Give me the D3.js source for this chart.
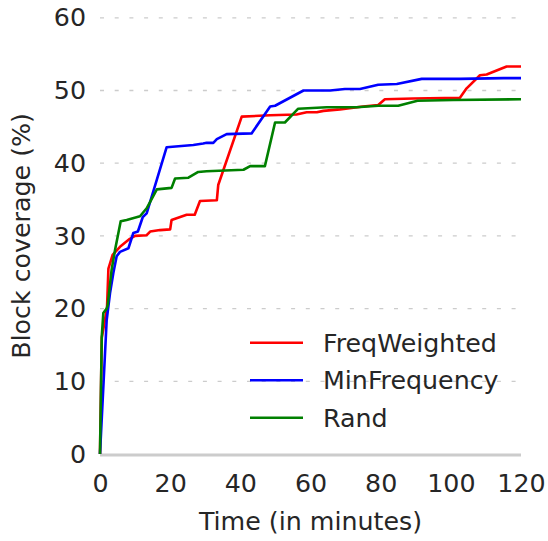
<!DOCTYPE html>
<html>
<head>
<meta charset="utf-8">
<script src="https://cdn.jsdelivr.net/npm/d3@7"></script>
<style>
  body { margin: 0; background: #fff; }
  text { font-family: "DejaVu Sans", sans-serif; fill: #262626; }
</style>
</head>
<body>
<div id="chart"></div>
<script>
// coverage over time
const seriesNames = ["FreqWeighted", "MinFrequency", "Rand"];
const seriesColors = ["#ff0000", "#0000ff", "#008000"];

const freqTime = [0, 0.5, 1.4, 2.0, 2.4, 2.6, 3.6, 5.7, 8.5, 10, 13.3, 14.3, 17.1, 20, 20.4, 24.7, 27, 28.5, 33.3, 33.7,
  40.4, 48.5, 56, 58.9, 61.8, 63.7, 68.4, 75, 79.3, 81.2, 89.3, 102.6, 104.5, 108.3, 110.2, 115.9, 120];
const freqCov = [0, 16.0, 18.4, 20.1, 25.5, 25.8, 27.4, 28.5, 29.6, 30, 30.1, 30.6, 30.8, 30.9, 32.2, 32.9, 32.9, 34.8, 34.9, 37,
  46.4, 46.6, 46.7, 47.0, 47.0, 47.2, 47.4, 47.8, 48.0, 48.8, 48.9, 49.0, 50.3, 52.1, 52.2, 53.3, 53.3];

const minTime = [0, 1.9, 2.85, 3.8, 4.75, 5.7, 8.1, 9.5, 10.8, 12.2, 13.3, 19, 26.6, 29.4, 30.4, 32.3, 33.3, 36.1,
  43.2, 48.5, 49.9, 58, 65.6, 69.8, 74.1, 79.3, 84.6, 91.7, 102.6, 115, 120];
const minCov = [0, 18.4, 22.1, 24.9, 27.2, 27.8, 28.3, 30.4, 30.6, 32.6, 33.1, 42.2, 42.5, 42.7, 42.8, 42.8, 43.3, 44.0,
  44.1, 47.8, 47.9, 50.0, 50.0, 50.2, 50.2, 50.8, 50.9, 51.6, 51.6, 51.7, 51.7];

const randTime = [0, 0.5, 0.95, 1.9, 2.2, 3.3, 4.3, 5.9, 7.6, 11.4, 13.3, 16.2, 20.4, 21.4, 25.2, 28, 30.4, 40.9, 42.8,
  47, 49.9, 52.7, 56.5, 64.6, 73.2, 79.3, 85, 90.5, 100.7, 120];
const randCov = [0, 16.1, 19.4, 20.0, 20.5, 25.3, 28.1, 32.0, 32.2, 32.7, 33.8, 36.4, 36.6, 37.9, 38.0, 38.8, 38.9, 39.1, 39.6,
  39.6, 45.6, 45.6, 47.5, 47.7, 47.7, 47.9, 47.9, 48.6, 48.7, 48.8];

const xTicks = [0, 20, 40, 60, 80, 100, 120];
const yTicks = [0, 10, 20, 30, 40, 50, 60];

const width = 548;
const height = 541;
const margin = { top: 17.8, right: 27, bottom: 87, left: 100 };
const fontSize = 25.3;

const svg = d3.select("#chart")
  .append("svg")
  .attr("width", width)
  .attr("height", height);

const xScale = d3.scaleLinear().domain([0, 120]).range([margin.left, width - margin.right]);
const yScale = d3.scaleLinear().domain([0, 60]).range([height - margin.bottom, margin.top]);

// dashed horizontal grid
svg.append("g")
  .selectAll("line")
  .data(yTicks.filter(d => d > 0))
  .join("line")
  .attr("x1", xScale(0))
  .attr("x2", xScale(120))
  .attr("y1", d => yScale(d))
  .attr("y2", d => yScale(d))
  .attr("stroke", "#cccccc")
  .attr("stroke-width", 1.3)
  .attr("stroke-dasharray", "4,10.7");

// bottom spine
svg.append("line")
  .attr("x1", xScale(0))
  .attr("x2", xScale(120))
  .attr("y1", yScale(0) + 1)
  .attr("y2", yScale(0) + 1)
  .attr("stroke", "#cccccc")
  .attr("stroke-width", 3);

const xAxis = svg.append("g")
  .attr("transform", `translate(0,${yScale(0)})`)
  .call(d3.axisBottom(xScale).tickValues(xTicks).tickSize(0).tickPadding(20));

const yAxis = svg.append("g")
  .attr("transform", `translate(${margin.left},0)`)
  .call(d3.axisLeft(yScale).tickValues(yTicks).tickSize(0).tickPadding(14));

[xAxis, yAxis].forEach(ax => {
  ax.select(".domain").remove();
  ax.selectAll("text")
    .attr("font-size", fontSize)
    .attr("font-family", "DejaVu Sans")
    .style("fill", "#262626");
});

const series = [
  { name: seriesNames[0], color: seriesColors[0], t: freqTime, v: freqCov },
  { name: seriesNames[1], color: seriesColors[1], t: minTime, v: minCov },
  { name: seriesNames[2], color: seriesColors[2], t: randTime, v: randCov }
];

const line = d3.line()
  .x(d => xScale(d[0]))
  .y(d => yScale(d[1]));

svg.append("g")
  .selectAll("path")
  .data(series)
  .join("path")
  .attr("d", s => line(s.t.map((t, i) => [t, s.v[i]])))
  .attr("fill", "none")
  .attr("stroke", s => s.color)
  .attr("stroke-width", 2.6)
  .attr("stroke-linejoin", "round");

// legend
const legend = svg.append("g")
  .selectAll("g")
  .data(series)
  .join("g")
  .attr("transform", (d, i) => `translate(250,${342.7 + i * 37.5})`);

legend.append("line")
  .attr("x1", 0)
  .attr("x2", 53)
  .attr("stroke", d => d.color)
  .attr("stroke-width", 2.6);

legend.append("text")
  .attr("x", 73)
  .attr("dy", "0.36em")
  .attr("font-size", fontSize)
  .text(d => d.name);

// axis titles
svg.append("text")
  .attr("x", (xScale(0) + xScale(120)) / 2)
  .attr("y", 530)
  .attr("text-anchor", "middle")
  .attr("font-size", fontSize)
  .text("Time (in minutes)");

svg.append("text")
  .attr("transform", `translate(30,${(yScale(0) + yScale(60)) / 2}) rotate(-90)`)
  .attr("text-anchor", "middle")
  .attr("font-size", fontSize)
  .text("Block coverage (%)");
</script>
</body>
</html>
